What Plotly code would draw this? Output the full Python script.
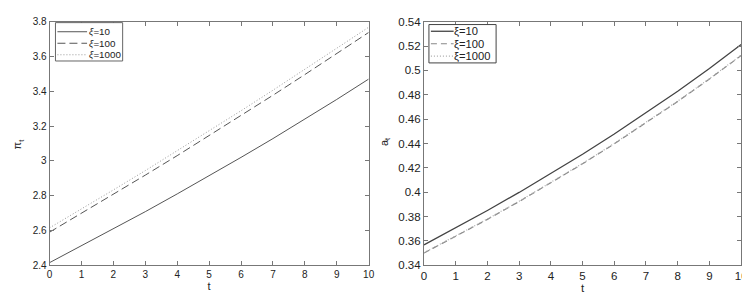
import plotly.graph_objects as go

t = [0, 1, 2, 3, 4, 5, 6, 7, 8, 9, 10]
pi_xi10 = [2.415, 2.511, 2.609, 2.708, 2.810, 2.914, 3.020, 3.128, 3.239, 3.353, 3.470]
pi_xi100 = [2.590, 2.698, 2.807, 2.918, 3.030, 3.144, 3.260, 3.377, 3.496, 3.616, 3.738]
pi_xi1000 = [2.615, 2.723, 2.833, 2.944, 3.057, 3.172, 3.288, 3.406, 3.526, 3.647, 3.768]
a_xi10 = [0.3568, 0.3707, 0.3850, 0.3998, 0.4152, 0.4312, 0.4478, 0.4650, 0.4829, 0.5015, 0.5212]
a_xi100 = [0.3500, 0.3636, 0.3777, 0.3923, 0.4075, 0.4233, 0.4397, 0.4568, 0.4745, 0.4929, 0.5122]
a_xi1000 = [0.3503, 0.3639, 0.3780, 0.3926, 0.4078, 0.4236, 0.4400, 0.4571, 0.4748, 0.4932, 0.5125]
xticks = [0, 1, 2, 3, 4, 5, 6, 7, 8, 9, 10]
pi_ticks = [2.4, 2.6, 2.8, 3.0, 3.2, 3.4, 3.6, 3.8]
pi_ticklabels = ["2.4", "2.6", "2.8", "3", "3.2", "3.4", "3.6", "3.8"]
a_ticks = [0.34, 0.36, 0.38, 0.40, 0.42, 0.44, 0.46, 0.48, 0.50, 0.52, 0.54]
a_ticklabels = ["0.34", "0.36", "0.38", "0.4", "0.42", "0.44", "0.46", "0.48", "0.5", "0.52", "0.54"]
legend_labels = ["ξ=10", "ξ=100", "ξ=1000"]

W, H = 750, 293
FONT = "Liberation Sans, Arial, sans-serif"

left_styles = [dict(color="#555555", width=1, dash="solid"),
               dict(color="#555555", width=1, dash="8px,4px"),
               dict(color="#999999", width=1, dash="1px,2px")]
right_styles = [dict(color="#444444", width=1.3, dash="solid"),
                dict(color="#888888", width=1.2, dash="6px,4px"),
                dict(color="#aaaaaa", width=1.2, dash="1px,2px")]

fig = go.Figure()
for ys, st, lab in zip([pi_xi10, pi_xi100, pi_xi1000], left_styles, legend_labels):
    fig.add_trace(go.Scatter(x=t, y=ys, mode="lines", name=lab, line=st,
                             xaxis="x", yaxis="y", showlegend=False))
for ys, st, lab in zip([a_xi10, a_xi100, a_xi1000], right_styles, legend_labels):
    fig.add_trace(go.Scatter(x=t, y=ys, mode="lines", name=lab, line=st,
                             xaxis="x2", yaxis="y2", showlegend=False))

def px(x):
    return x / W

def py(y):
    return 1 - y / H

shapes = []
annotations = []

def add_legend(box, line_x, text_x, rows, styles, fsize, border, italic):
    x0, y0, x1, y1 = box
    shapes.append(dict(type="rect", xref="paper", yref="paper",
                       x0=px(x0), x1=px(x1), y0=py(y1), y1=py(y0),
                       line=dict(color=border, width=1), fillcolor="white", layer="above"))
    for r, st, lab in zip(rows, styles, legend_labels):
        shapes.append(dict(type="line", xref="paper", yref="paper",
                           x0=px(line_x[0]), x1=px(line_x[1]), y0=py(r), y1=py(r),
                           line=st, layer="above"))
        txt = lab.replace("ξ", "<i>ξ</i>") if italic else lab
        annotations.append(dict(xref="paper", yref="paper", x=px(text_x), y=py(r),
                                xanchor="left", yanchor="middle", text=txt, showarrow=False,
                                borderpad=0,
                                font=dict(size=fsize, color="#222222", family=FONT)))

add_legend((45, 9, 113, 49), (47, 77), 78, [18.5, 30.5, 42.5], left_styles, 9.8, "#666666", True)
add_legend((423, 11, 491, 51), (425, 448), 447, [18, 31, 44], right_styles, 11.2, "#444444", False)

# axis titles
annotations.append(dict(xref="paper", yref="paper", x=px(8), y=py(135), text="π<sub>t</sub>",
                        textangle=-90, showarrow=False, xanchor="center", yanchor="middle",
                        font=dict(size=11, color="#222222", family=FONT)))
annotations.append(dict(xref="paper", yref="paper", x=px(378), y=py(133), text="a<sub>t</sub>",
                        textangle=-90, showarrow=False, xanchor="center", yanchor="middle",
                        font=dict(size=11, color="#222222", family=FONT)))

ydom = [31 / H, 285 / H]
axis_common = dict(showline=True, linecolor="#777777", linewidth=1, mirror="ticks",
                   ticks="inside", ticklen=4, tickcolor="#777777", showgrid=False,
                   zeroline=False)

fig.update_layout(
    width=W, height=H,
    margin=dict(l=0, r=0, t=0, b=0),
    paper_bgcolor="white", plot_bgcolor="white",
    font=dict(family=FONT, color="#222222"),
    showlegend=False,
    shapes=shapes,
    annotations=annotations,
    xaxis=dict(domain=[39 / W, 362 / W], range=[0, 10], tickvals=xticks,
               tickfont=dict(size=10), title=dict(text="t", font=dict(size=11), standoff=2),
               anchor="y", **axis_common),
    yaxis=dict(domain=ydom, range=[2.4, 3.8], tickvals=pi_ticks, ticktext=pi_ticklabels,
               tickfont=dict(size=10), anchor="x", **axis_common),
    xaxis2=dict(domain=[418 / W, 739 / W], range=[0, 10], tickvals=xticks,
                tickfont=dict(size=11.5), title=dict(text="t", font=dict(size=11.5), standoff=1),
                anchor="y2", **axis_common),
    yaxis2=dict(domain=ydom, range=[0.34, 0.54], tickvals=a_ticks, ticktext=a_ticklabels,
                tickfont=dict(size=11.5), anchor="x2", **axis_common),
)

fig.write_html("out.html")
